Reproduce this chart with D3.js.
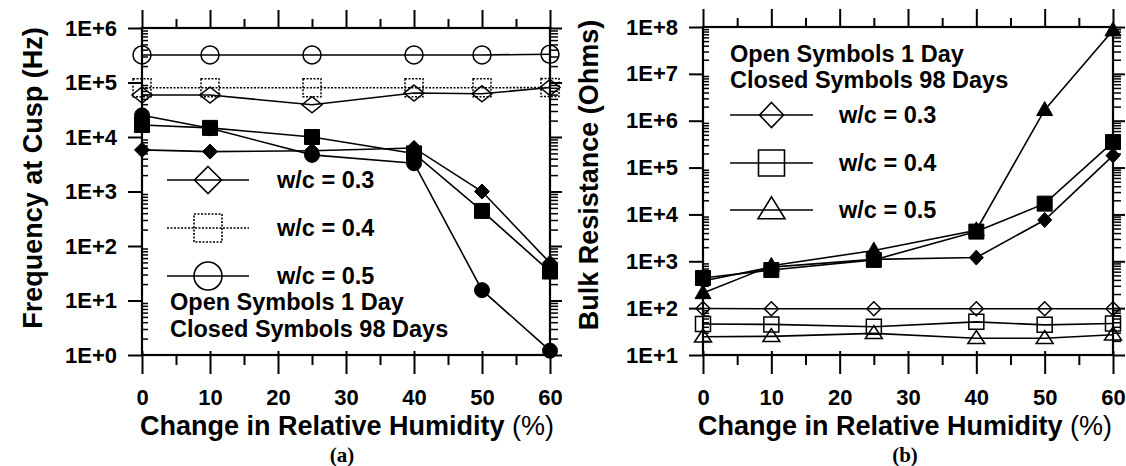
<!DOCTYPE html>
<html>
<head>
<meta charset="utf-8">
<script src="https://cdn.jsdelivr.net/npm/d3@7"></script>
<style>
  html, body { margin: 0; padding: 0; background: #fff; }
  svg { display: block; }
  text { font-family: "Liberation Sans", Arial, sans-serif; fill: #000; }
</style>
</head>
<body>
<svg id="chart" width="1126" height="466"></svg>
<script>
// Relative humidity change (%) shared by both panels
const humidity = [0, 10, 25, 40, 50, 60];
const humidityTicks = [0, 10, 20, 30, 40, 50, 60];

// (a) Frequency at cusp (Hz); open = 1 day, closed = 98 days
const freqOpen03 = [5.9e4, 5.9e4, 3.9e4, 6.4e4, 6.2e4, 8.1e4];
const freqOpen04 = [8.0e4, 8.0e4, 8.0e4, 8.0e4, 8.0e4, 8.1e4];
const freqOpen05 = [3.2e5, 3.2e5, 3.2e5, 3.2e5, 3.2e5, 3.3e5];
const freqClosed03 = [5.8e3, 5.4e3, 5.6e3, 6.3e3, 1.0e3, 49];
const freqClosed04 = [1.66e4, 1.47e4, 1.0e4, 5.0e3, 440, 34];
const freqClosed05 = [2.5e4, 1.45e4, 4.7e3, 3.3e3, 15.5, 1.2];
const freqTicks = [1, 10, 100, 1e3, 1e4, 1e5, 1e6];
const freqTickLabels = ["1E+0", "1E+1", "1E+2", "1E+3", "1E+4", "1E+5", "1E+6"];

// (b) Bulk resistance (Ohms); open = 1 day, closed = 98 days
const resOpen03 = [98, 97, 97, 97, 97, 97];
const resOpen04 = [46, 45, 40, 51, 44, 47];
const resOpen05 = [24.5, 25, 29, 22.7, 22.7, 27];
const resClosed03 = [380, 750, 1.1e3, 1.2e3, 7.6e3, 1.8e5];
const resClosed04 = [440, 650, 1.07e3, 4.3e3, 1.7e4, 3.5e5];
const resClosed05 = [210, 800, 1.7e3, 4.6e3, 1.7e6, 8.5e7];
const resTicks = [10, 100, 1e3, 1e4, 1e5, 1e6, 1e7, 1e8];
const resTickLabels = ["1E+1", "1E+2", "1E+3", "1E+4", "1E+5", "1E+6", "1E+7", "1E+8"];

const legendLabels = ["w/c = 0.3", "w/c = 0.4", "w/c = 0.5"];
const noteLines = ["Open Symbols 1 Day", "Closed Symbols 98 Days"];

const svg = d3.select("#chart");

// marker outline generators centred at 0,0
function markerPath(shape, w, h) {
  const p = d3.path();
  if (shape === "diamond") {
    p.moveTo(0, -h / 2); p.lineTo(w / 2, 0); p.lineTo(0, h / 2); p.lineTo(-w / 2, 0); p.closePath();
  } else if (shape === "square") {
    p.rect(-w / 2, -h / 2, w, h);
  } else if (shape === "circle") {
    p.arc(0, 0, w / 2, 0, 2 * Math.PI); p.closePath();
  } else if (shape === "triangle") {
    p.moveTo(0, -h * 0.6); p.lineTo(w / 2, h * 0.4); p.lineTo(-w / 2, h * 0.4); p.closePath();
  }
  return p.toString();
}

function minorLogTicks(domain) {
  const out = [];
  const lo = Math.round(Math.log10(domain[0])), hi = Math.round(Math.log10(domain[1]));
  for (let e = lo; e < hi; e++) for (let m = 2; m <= 9; m++) out.push(m * Math.pow(10, e));
  return out;
}

function drawPanel(cfg) {
  const x = d3.scaleLinear().domain([0, 60]).range([cfg.x0, cfg.x1]);
  const y = d3.scaleLog().domain(cfg.yDomain).range([355, cfg.yTop]);
  const g = svg.append("g");
  const minorX = d3.range(5, 60, 10);
  const minorY = minorLogTicks(cfg.yDomain);

  const axStyle = sel => {
    sel.select(".domain").remove();
    sel.selectAll("line").attr("stroke", "#000").attr("stroke-width", 2);
  };

  // bottom axis: majors with labels, minors without
  g.append("g").attr("transform", `translate(0,355)`)
    .call(d3.axisBottom(x).tickValues(humidityTicks).tickSize(19).tickPadding(15).tickFormat(d3.format("d")))
    .call(axStyle)
    .call(s => s.selectAll("line").attr("y1", -4))
    .call(s => s.selectAll("text").attr("font-size", 22).attr("font-weight", "bold")
      .attr("font-family", "Liberation Sans, Arial, sans-serif"));
  g.append("g").attr("transform", `translate(0,355)`)
    .call(d3.axisBottom(x).tickValues(minorX).tickSize(10).tickFormat(""))
    .call(axStyle);

  // top axis, ticks pointing outward
  g.append("g").attr("transform", `translate(0,${cfg.yTop})`)
    .call(d3.axisTop(x).tickValues(humidityTicks).tickSize(18).tickFormat(""))
    .call(axStyle);
  g.append("g").attr("transform", `translate(0,${cfg.yTop})`)
    .call(d3.axisTop(x).tickValues(minorX).tickSize(9).tickFormat(""))
    .call(axStyle);

  // left axis: decade labels, minor ticks inside
  g.append("g").attr("transform", `translate(${cfg.x0},0)`)
    .call(d3.axisLeft(y).tickValues(cfg.ticks).tickSize(14).tickPadding(11)
      .tickFormat((d, i) => cfg.tickLabels[i]))
    .call(axStyle)
    .call(s => s.selectAll("text").attr("font-size", 22).attr("font-weight", "bold")
      .attr("font-family", "Liberation Sans, Arial, sans-serif"));
  g.append("g").attr("transform", `translate(${cfg.x0},0)`)
    .call(d3.axisLeft(y).tickValues(minorY).tickSize(-6).tickFormat(""))
    .call(axStyle).call(s => s.selectAll("line").attr("stroke-width", 1.5));

  // right axis, ticks outward
  g.append("g").attr("transform", `translate(${cfg.x1},0)`)
    .call(d3.axisRight(y).tickValues(cfg.ticks).tickSize(12).tickFormat(""))
    .call(axStyle);
  g.append("g").attr("transform", `translate(${cfg.x1},0)`)
    .call(d3.axisRight(y).tickValues(minorY).tickSize(8).tickFormat(""))
    .call(axStyle).call(s => s.selectAll("line").attr("stroke-width", 1.5));

  // frame
  g.append("rect").attr("x", cfg.x0).attr("y", cfg.yTop)
    .attr("width", cfg.x1 - cfg.x0).attr("height", 355 - cfg.yTop)
    .attr("fill", "none").attr("stroke", "#000").attr("stroke-width", 2.2);

  const line = d3.line().x((d, i) => x(humidity[i])).y(d => y(d));

  cfg.series.forEach(s => {
    g.append("path").datum(s.values).attr("d", line)
      .attr("fill", "none").attr("stroke", "#000").attr("stroke-width", 1.6)
      .attr("stroke-dasharray", s.dash || null);
  });
  cfg.series.forEach(s => {
    g.selectAll(null).data(s.values).join("path")
      .attr("transform", (d, i) => `translate(${x(humidity[i])},${y(d)})`)
      .attr("d", markerPath(s.shape, s.w, s.h))
      .attr("fill", s.filled ? "#000" : "none")
      .attr("stroke", "#000").attr("stroke-width", s.filled ? 1 : 1.5)
      .attr("stroke-dasharray", s.outlineDash || null);
  });

  // axis titles
  const xt = g.append("text").attr("x", (cfg.x0 + cfg.x1) / 2 + cfg.xTitleShift).attr("y", 435)
    .attr("text-anchor", "middle").attr("font-size", 27);
  xt.append("tspan").attr("font-weight", "bold").text("Change in Relative Humidity");
  xt.append("tspan").attr("font-weight", "normal").text(" (%)");

  g.append("text").attr("transform", `translate(${cfg.yTitleX},${cfg.yTitleY}) rotate(-90)`)
    .attr("text-anchor", "middle").attr("font-size", 27).attr("font-weight", "bold")
    .attr("dy", "0.36em").text(cfg.yTitle);

  g.append("text").attr("x", cfg.panelLabelX).attr("y", 462).attr("text-anchor", "middle")
    .attr("font-weight", "bold").attr("font-size", 21)
    .style("font-family", "'Liberation Serif', 'Times New Roman', serif").text(cfg.panelLabel);

  // legend
  const lg = cfg.legend;
  lg.rows.forEach((r, i) => {
    const ly = lg.rowY[i];
    g.append("line").attr("x1", lg.lineX0).attr("x2", lg.lineX1).attr("y1", ly).attr("y2", ly)
      .attr("stroke", "#000").attr("stroke-width", 1.5).attr("stroke-dasharray", r.dash || null);
    g.append("path").attr("transform", `translate(${(lg.lineX0 + lg.lineX1) / 2},${ly})`)
      .attr("d", markerPath(r.shape, r.w, r.h)).attr("fill", "none")
      .attr("stroke", "#000").attr("stroke-width", 1.6).attr("stroke-dasharray", r.outlineDash || null);
    g.append("text").attr("x", lg.textX).attr("y", ly).attr("dy", "0.36em")
      .attr("font-size", 23.5).attr("font-weight", "bold").text(legendLabels[i]);
  });
  noteLines.forEach((t, i) => {
    g.append("text").attr("x", lg.noteX).attr("y", lg.noteY[i])
      .attr("font-size", 23.5).attr("font-weight", "bold").text(t);
  });
}

drawPanel({
  x0: 142, x1: 550, yTop: 28, yDomain: [1, 1e6], ticks: freqTicks, tickLabels: freqTickLabels,
  yTitle: "Frequency at Cusp (Hz)", yTitleX: 32, yTitleY: 178, xTitleShift: 1,
  panelLabel: "(a)", panelLabelX: 342,
  series: [
    { values: freqOpen05, shape: "circle", w: 18, h: 18 },
    { values: freqOpen04, shape: "square", w: 18, h: 18, dash: "2,1.5", outlineDash: "2,1.5" },
    { values: freqOpen03, shape: "diamond", w: 20, h: 16 },
    { values: freqClosed03, shape: "diamond", w: 15, h: 15, filled: true },
    { values: freqClosed04, shape: "square", w: 15, h: 15, filled: true },
    { values: freqClosed05, shape: "circle", w: 15, h: 15, filled: true }
  ],
  legend: {
    lineX0: 167, lineX1: 249, textX: 277, rowY: [180, 228, 276],
    rows: [
      { shape: "diamond", w: 27, h: 27 },
      { shape: "square", w: 28, h: 28, dash: "2,1.5", outlineDash: "2,1.5" },
      { shape: "circle", w: 28, h: 28 }
    ],
    noteX: 170, noteY: [310, 337]
  }
});

drawPanel({
  x0: 703, x1: 1113, yTop: 27, yDomain: [10, 1e8], ticks: resTicks, tickLabels: resTickLabels,
  yTitle: "Bulk Resistance (Ohms)", yTitleX: 588, yTitleY: 175, xTitleShift: -3,
  panelLabel: "(b)", panelLabelX: 905,
  series: [
    { values: resOpen03, shape: "diamond", w: 14, h: 14 },
    { values: resOpen04, shape: "square", w: 15, h: 15 },
    { values: resOpen05, shape: "triangle", w: 17, h: 13 },
    { values: resClosed03, shape: "diamond", w: 14, h: 15, filled: true },
    { values: resClosed04, shape: "square", w: 15, h: 15, filled: true },
    { values: resClosed05, shape: "triangle", w: 16, h: 14, filled: true }
  ],
  legend: {
    lineX0: 730, lineX1: 813, textX: 839, rowY: [115, 163, 210],
    rows: [
      { shape: "diamond", w: 24, h: 25 },
      { shape: "square", w: 26, h: 26 },
      { shape: "triangle", w: 27, h: 22 }
    ],
    noteX: 730, noteY: [62, 88]
  }
});
</script>
</body>
</html>
